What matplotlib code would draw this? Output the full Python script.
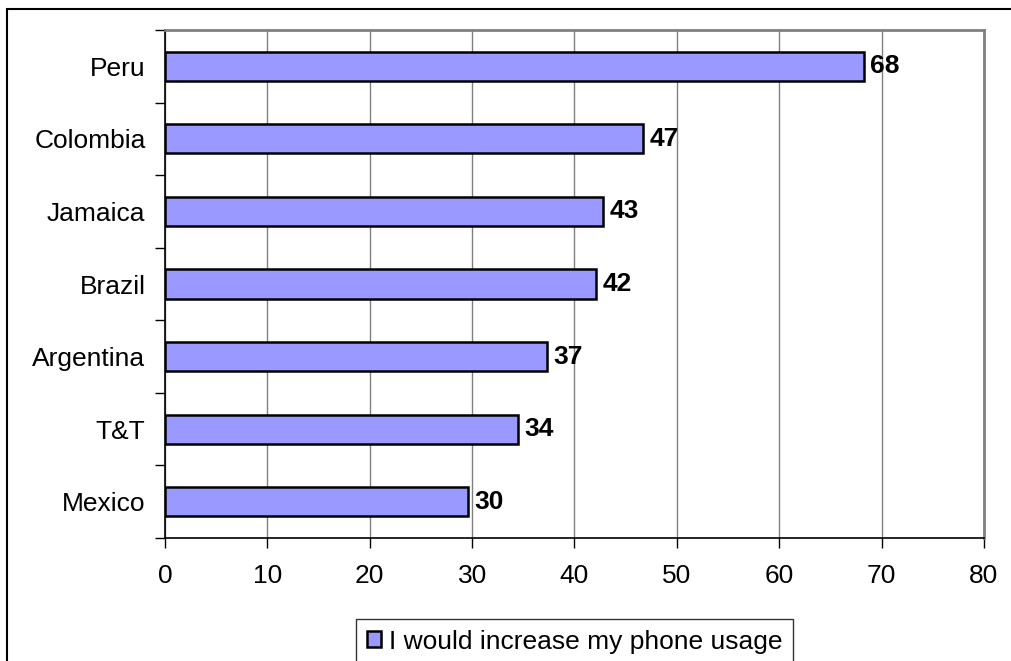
import matplotlib.pyplot as plt
from matplotlib.patches import Rectangle

# Données
pays = ["Peru", "Colombia", "Jamaica", "Brazil", "Argentina", "T&T", "Mexico"]
valeurs = [68.3, 46.7, 42.8, 42.1, 37.3, 34.5, 29.6]
etiquettes = ["68", "47", "43", "42", "37", "34", "30"]
serie = "I would increase my phone usage"
graduations = [0, 10, 20, 30, 40, 50, 60, 70, 80]

plt.rcParams['font.family'] = ['Liberation Sans', 'DejaVu Sans']
fs = 19

W, H = 1012, 661
fig = plt.figure(figsize=(W / 100, H / 100), dpi=100)

# Cadre extérieur (dépasse à droite et en bas)
fig.patches.append(Rectangle((7 / W, -0.05), 1.2, 1 - 9 / H + 0.05,
                             transform=fig.transFigure, fill=False,
                             edgecolor='black', linewidth=1.5))

ax = fig.add_axes([165 / W, 1 - 538 / H, (984 - 165) / W, (538 - 30) / H])

y = list(range(len(pays)))
ax.barh(y, valeurs, height=0.4, color='#9999ff', edgecolor='black',
        linewidth=1.8, label=serie, zorder=3)

for yi, v, txt in zip(y, valeurs, etiquettes):
    ax.text(v + 0.6, yi, txt, va='center', ha='left', fontsize=fs,
            fontweight='bold', zorder=4)

ax.set_ylim(len(pays) - 0.5, -0.5)
ax.set_xlim(0, 80)
ax.set_xticks(graduations)
ax.set_yticks(y)
ax.set_yticklabels(pays)
ax.set_yticks([i + 0.5 for i in range(-1, len(pays))], minor=True)
ax.tick_params(axis='y', which='major', length=0, pad=14, labelsize=fs)
ax.tick_params(axis='y', which='minor', length=7, width=1, direction='out')
ax.tick_params(axis='x', length=7, width=1, pad=12, labelsize=fs)

ax.grid(axis='x', color='#808080', linewidth=1, zorder=0)
for s in ['top', 'right']:
    ax.spines[s].set_color('#808080')
    ax.spines[s].set_linewidth(2)
for s in ['left', 'bottom']:
    ax.spines[s].set_color('black')
    ax.spines[s].set_linewidth(1.2)

leg = fig.legend(loc='upper center', bbox_to_anchor=(574.5 / W, 1 - 619 / H),
                 fontsize=fs, frameon=True, fancybox=False, handlelength=0.55,
                 handleheight=0.55, handletextpad=0.3, borderpad=0.4,
                 borderaxespad=0)
leg.get_frame().set_edgecolor('black')
leg.get_frame().set_linewidth(1)

plt.savefig("out.png", dpi=100)
